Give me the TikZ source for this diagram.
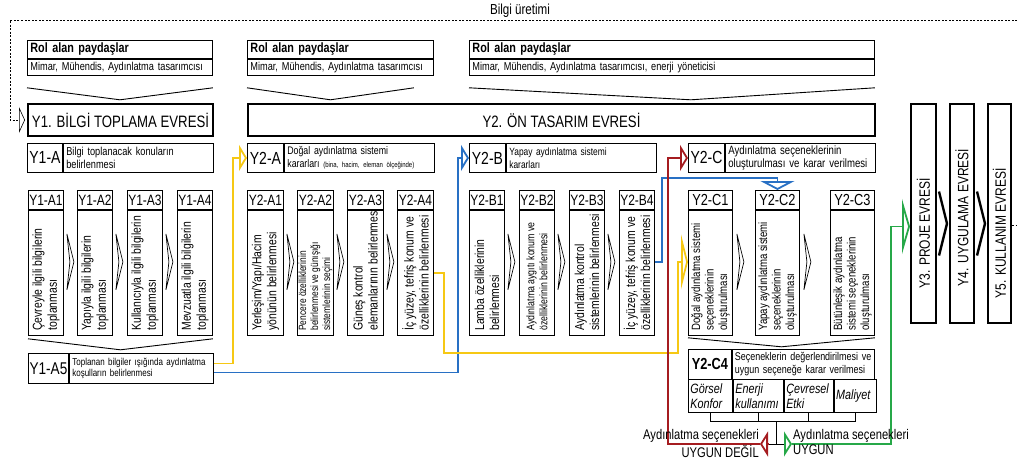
\documentclass[tikz,border=0pt]{standalone}
\usepackage{fontspec}
\setmainfont{Liberation Sans}[FakeStretch=0.8]
\usetikzlibrary{positioning,calc,arrows.meta}
\definecolor{flowyellow}{RGB}{246,200,20}
\definecolor{flowblue}{RGB}{40,112,196}
\definecolor{flowred}{RGB}{165,28,32}
\definecolor{flowgreen}{RGB}{38,168,72}
\newcommand{\fsz}[2]{\fontsize{#1}{#2}\selectfont}

\begin{document}
\begin{tikzpicture}
  [x=1pt, y=-1pt,
   boxN/.style={draw, line width=0.9pt, inner sep=0pt, anchor=north west},
   rolN/.style={boxN, align=left, inner xsep=3pt, text width=#1},
   evreN/.style={boxN, line width=2pt, font=\fsz{16.5}{18}},
   labN/.style={boxN, minimum height=29pt, font=\fsz{17.5}{19}},
   txtN/.style={boxN, minimum height=29pt, align=left, inner xsep=3pt, text width=144pt},
   headN/.style={boxN, minimum height=19pt, font=\fsz{15}{17}},
   bodyN/.style={boxN, minimum height=125pt},
   vtext/.style={rotate=90, anchor=west, align=left, inner sep=0pt, font=\fsz{13}{15}},
   cellN/.style={boxN, minimum height=33pt, align=left, inner xsep=2pt, font=\fsz{13.5}{15.5}\itshape},
   vee/.style={line width=0.9pt},
   nxt/.style={line width=0.7pt, line join=miter},
   bnxt/.style={line width=2.4pt, line join=miter},
   tree/.style={line width=0.9pt},
   dline/.style={line width=0.6pt, dash pattern=on 2pt off 1.5pt},
   flow/.style={line width=1.8pt, -{Triangle[open, length=8pt, width=26pt]}},
   lbl/.style={font=\fsz{14}{16}, inner sep=1pt}]

  \useasboundingbox (0,0) rectangle (1017,463);

  % bilgi üretimi loop
  \node[font=\fsz{14.5}{16}] (bilgi) at (520,11) {Bilgi üretimi};
  \coordinate (topL) at (10,20);
  \coordinate (topR) at (1017,20);
  \coordinate (outR) at (1017,225);

  % roles
  \node[rolN=179pt, minimum height=18pt, font=\fsz{13.5}{15}\bfseries] (rol1) at (27,40) {Rol alan paydaşlar};
  \node[rolN=179pt, minimum height=16pt, font=\fsz{11.5}{13}, below=0pt of rol1] (rol1m) {Mimar, Mühendis, Aydınlatma tasarımcısı};
  \node[rolN=180pt, minimum height=18pt, font=\fsz{13.5}{15}\bfseries] (rol2) at (247,40) {Rol alan paydaşlar};
  \node[rolN=180pt, minimum height=16pt, font=\fsz{11.5}{13}, below=0pt of rol2] (rol2m) {Mimar, Mühendis, Aydınlatma tasarımcısı};
  \node[rolN=399pt, minimum height=18pt, font=\fsz{13.5}{15}\bfseries] (rol3) at (469,40) {Rol alan paydaşlar};
  \node[rolN=399pt, minimum height=16pt, font=\fsz{11.5}{13}, below=0pt of rol3] (rol3m) {Mimar, Mühendis, Aydınlatma tasarımcısı, enerji yöneticisi};

  \draw[vee] ($(rol1m.south west)+(0,12)$) -- ($(rol1m.south)+(0,24)$) -- ($(rol1m.south east)+(0,12)$);
  \draw[vee] ($(rol2m.south west)+(0,12)$) -- ($(rol2m.south)+(-10,24)$) -- ($(rol2m.south east)+(-20,12)$);
  \draw[vee] ($(rol3m.south west)+(0,12)$) -- ($(rol3m.south)+(19,24)$) -- ($(rol3m.south east)+(0,12)$);

  % phases
  \node[evreN, minimum width=185pt, minimum height=32pt] (y1) at (27,103) {Y1. BİLGİ TOPLAMA EVRESİ};
  \node[evreN, minimum width=627pt, minimum height=32pt] (y2) at (247,103) {Y2. ÖN TASARIM EVRESİ};

  \node[boxN, line width=2pt, minimum width=25pt, minimum height=219pt] (y3) at (910,103) {};
  \node[boxN, line width=2pt, minimum width=24pt, minimum height=219pt, right=12pt of y3] (y4) {};
  \node[boxN, line width=2pt, minimum width=23pt, minimum height=219pt, right=12pt of y4] (y5) {};
  \node[rotate=90, font=\fsz{15}{17}] (y3x) at ($(y3)+(0,20)$) {Y3. PROJE EVRESİ};
  \node[rotate=90, font=\fsz{15}{17}] (y4x) at ($(y4)+(0,4)$) {Y4. UYGULAMA EVRESİ};
  \node[rotate=90, font=\fsz{15}{17}] (y5x) at ($(y5)+(0,20)$) {Y5. KULLANIM EVRESİ};
  \draw[bnxt] ($(y3.east)+(2,-22)$) -- ++(8,32) -- ++(-8,32);
  \draw[bnxt] ($(y4.east)+(2,-22)$) -- ++(8,32) -- ++(-8,32);

  % steps
  \node[labN, minimum width=35pt] (y1a) at (27,143) {Y1-A};
  \node[txtN, font=\fsz{11.5}{13}, right=0pt of y1a] (y1at) {Bilgi toplanacak konuların\\belirlenmesi};
  \node[labN, minimum width=36pt] (y2a) at (247,143) {Y2-A};
  \node[txtN, font=\fsz{11}{13}, right=0pt of y2a] (y2at) {Doğal aydınlatma sistemi\\kararları {\fsz{7.5}{9}(bina, hacim, eleman ölçeğinde)}};
  \node[labN, minimum width=36pt] (y2b) at (469,143) {Y2-B};
  \node[txtN, font=\fsz{10.5}{13}, right=0pt of y2b] (y2bt) {Yapay aydınlatma sistemi\\kararları};
  \node[labN, minimum width=36pt] (y2c) at (688,143) {Y2-C};
  \node[txtN, font=\fsz{12}{13.5}, right=0pt of y2c] (y2ct) {Aydınlatma seçeneklerinin\\oluşturulması ve karar verilmesi};

  % Y1 sub steps
  \node[headN, minimum width=35pt] (y1a1) at (28,190) {Y1-A1};
  \node[bodyN, minimum width=35pt, below=0pt of y1a1] (y1a1b) {};
  \node[vtext] (y1a1x) at ($(y1a1b.south)+(0,-5)$) {Çevreyle ilgili bilgilerin\\toplanması};
  \node[headN, minimum width=35pt] (y1a2) at (77,190) {Y1-A2};
  \node[bodyN, minimum width=35pt, below=0pt of y1a2] (y1a2b) {};
  \node[vtext] (y1a2x) at ($(y1a2b.south)+(0,-5)$) {Yapıyla ilgili bilgilerin\\toplanması};
  \node[headN, minimum width=35pt] (y1a3) at (127,190) {Y1-A3};
  \node[bodyN, minimum width=35pt, below=0pt of y1a3] (y1a3b) {};
  \node[vtext] (y1a3x) at ($(y1a3b.south)+(0,-5)$) {Kullanıcıyla ilgili bilgilerin\\toplanması};
  \node[headN, minimum width=35pt] (y1a4) at (177,190) {Y1-A4};
  \node[bodyN, minimum width=35pt, below=0pt of y1a4] (y1a4b) {};
  \node[vtext] (y1a4x) at ($(y1a4b.south)+(0,-5)$) {Mevzuatla ilgili bilgilerin\\toplanması};

  \draw[nxt] ($(y1a1b.north east)+(3,24)$) -- ++(7,28) -- ++(-7,28) -- ++(3,-28) -- cycle;
  \draw[nxt] ($(y1a2b.north east)+(3,24)$) -- ++(7,28) -- ++(-7,28) -- ++(3,-28) -- cycle;
  \draw[nxt] ($(y1a3b.north east)+(3,24)$) -- ++(7,28) -- ++(-7,28) -- ++(3,-28) -- cycle;
  \draw[vee] ($(y1a1b.south west)+(0,3)$) -- ($(y1a1b.south west)!0.5!(y1a4b.south east)+(0,14)$) -- ($(y1a4b.south east)+(0,3)$);

  \node[boxN, minimum width=40pt, minimum height=30pt, font=\fsz{17}{19}] (y1a5) at (28,353) {Y1-A5};
  \node[boxN, minimum height=30pt, align=left, inner xsep=3pt, text width=138pt, font=\fsz{10}{11.5}, right=0pt of y1a5] (y1a5t) {Toplanan bilgiler ışığında aydınlatma\\koşulların belirlenmesi};

  % Y2-A sub steps
  \node[headN, minimum width=36pt] (y2a1) at (247,190) {Y2-A1};
  \node[bodyN, minimum width=36pt, below=0pt of y2a1] (y2a1b) {};
  \node[vtext] (y2a1x) at ($(y2a1b.south)+(0,-5)$) {Yerleşim/Yapı/Hacim\\yönünün belirlenmesi};
  \node[headN, minimum width=36pt] (y2a2) at (297,190) {Y2-A2};
  \node[bodyN, minimum width=36pt, below=0pt of y2a2] (y2a2b) {};
  \node[vtext, font=\fsz{10.5}{12}] (y2a2x) at ($(y2a2b.south)+(0,-5)$) {Pencere özelliklerinin\\belirlenmesi ve günışığı\\sistemlerinin seçimi};
  \node[headN, minimum width=36pt] (y2a3) at (347,190) {Y2-A3};
  \node[bodyN, minimum width=36pt, below=0pt of y2a3] (y2a3b) {};
  \node[vtext] (y2a3x) at ($(y2a3b.south)+(0,-5)$) {Güneş kontrol\\elemanlarının belirlenmesi};
  \node[headN, minimum width=36pt] (y2a4) at (397,190) {Y2-A4};
  \node[bodyN, minimum width=36pt, below=0pt of y2a4] (y2a4b) {};
  \node[vtext] (y2a4x) at ($(y2a4b.south)+(0,-5)$) {İç yüzey, tefriş konum ve\\özelliklerinin belirlenmesi};

  \draw[nxt] ($(y2a1b.north east)+(3,24)$) -- ++(7,28) -- ++(-7,28) -- ++(3,-28) -- cycle;
  \draw[nxt] ($(y2a2b.north east)+(3,24)$) -- ++(7,28) -- ++(-7,28) -- ++(3,-28) -- cycle;
  \draw[nxt] ($(y2a3b.north east)+(3,24)$) -- ++(7,28) -- ++(-7,28) -- ++(3,-28) -- cycle;

  % Y2-B sub steps
  \node[headN, minimum width=35pt] (y2b1) at (469,190) {Y2-B1};
  \node[bodyN, minimum width=35pt, below=0pt of y2b1] (y2b1b) {};
  \node[vtext] (y2b1x) at ($(y2b1b.south)+(0,-5)$) {Lamba özelliklerinin\\belirlenmesi};
  \node[headN, minimum width=35pt] (y2b2) at (519,190) {Y2-B2};
  \node[bodyN, minimum width=35pt, below=0pt of y2b2] (y2b2b) {};
  \node[vtext, font=\fsz{11}{13}] (y2b2x) at ($(y2b2b.south)+(0,-5)$) {Aydınlatma aygıtı konum ve\\özelliklerinin belirlenmesi};
  \node[headN, minimum width=35pt] (y2b3) at (569,190) {Y2-B3};
  \node[bodyN, minimum width=35pt, below=0pt of y2b3] (y2b3b) {};
  \node[vtext] (y2b3x) at ($(y2b3b.south)+(0,-5)$) {Aydınlatma kontrol\\sistemlerinin belirlenmesi};
  \node[headN, minimum width=35pt] (y2b4) at (619,190) {Y2-B4};
  \node[bodyN, minimum width=35pt, below=0pt of y2b4] (y2b4b) {};
  \node[vtext] (y2b4x) at ($(y2b4b.south)+(0,-5)$) {İç yüzey, tefriş konum ve\\özelliklerinin belirlenmesi};

  \draw[nxt] ($(y2b1b.north east)+(3,24)$) -- ++(7,28) -- ++(-7,28) -- ++(3,-28) -- cycle;
  \draw[nxt] ($(y2b2b.north east)+(3,24)$) -- ++(7,28) -- ++(-7,28) -- ++(3,-28) -- cycle;
  \draw[nxt] ($(y2b3b.north east)+(3,24)$) -- ++(7,28) -- ++(-7,28) -- ++(3,-28) -- cycle;

  % Y2-C sub steps
  \node[headN, minimum width=44pt, font=\fsz{16}{18}] (y2c1) at (688,190) {Y2-C1};
  \node[bodyN, minimum width=44pt, below=0pt of y2c1] (y2c1b) {};
  \node[vtext, font=\fsz{12}{13.5}] (y2c1x) at ($(y2c1b.south)+(0,-5)$) {Doğal aydınlatma sistemi\\seçeneklerinin\\oluşturulması};
  \node[headN, minimum width=44pt, font=\fsz{16}{18}] (y2c2) at (755,190) {Y2-C2};
  \node[bodyN, minimum width=44pt, below=0pt of y2c2] (y2c2b) {};
  \node[vtext, font=\fsz{12}{13.5}] (y2c2x) at ($(y2c2b.south)+(0,-5)$) {Yapay aydınlatma sistemi\\seçeneklerinin\\oluşturulması};
  \node[headN, minimum width=44pt, font=\fsz{16}{18}] (y2c3) at (830,190) {Y2-C3};
  \node[bodyN, minimum width=44pt, below=0pt of y2c3] (y2c3b) {};
  \node[vtext, font=\fsz{12}{13.5}] (y2c3x) at ($(y2c3b.south)+(0,-5)$) {Bütünleşik aydınlatma\\sistemi seçeneklerinin\\oluşturulması};

  \draw[nxt] ($(y2c1b.north east)+(4,24)$) -- ++(7,28) -- ++(-7,28) -- ++(3,-28) -- cycle;
  \draw[nxt] ($(y2c2b.north east)+(4,24)$) -- ++(7,28) -- ++(-7,28) -- ++(3,-28) -- cycle;
  \draw[vee] ($(y2c1b.south west)+(0,2)$) -- ($(y2c1b.south west)!0.5!(y2c3b.south east)+(0,11)$) -- ($(y2c3b.south east)+(0,2)$);

  % evaluation
  \node[boxN, minimum width=43pt, minimum height=30pt, font=\fsz{16}{18}\bfseries] (y2c4) at (688,349) {Y2-C4};
  \node[boxN, minimum height=30pt, align=left, inner xsep=2.5pt, text width=137pt, font=\fsz{11.2}{13}, right=0pt of y2c4] (y2c4t) {Seçeneklerin değerlendirilmesi ve\\uygun seçeneğe karar verilmesi};
  \node[cellN, text width=40pt] (gorsel) at (688,379) {Görsel\\Konfor};
  \node[cellN, text width=46pt, right=0pt of gorsel] (enerji) {Enerji\\kullanımı};
  \node[cellN, text width=45pt, right=0pt of enerji] (cevre) {Çevresel\\Etki};
  \node[cellN, text width=38pt, right=0pt of cevre] (maliyet) {Maliyet};

  \draw[tree] (gorsel.south) -- ++(0,9) coordinate (t1) -- (t1 -| maliyet.south) -- (maliyet.south);
  \draw[tree] (enerji.south) -- (enerji.south |- t1);
  \draw[tree] (cevre.south) -- (cevre.south |- t1);
  \coordinate (jn) at (776,444);
  \draw[tree] (jn |- t1) -- (jn);
  \draw[tree] ($(jn)+(-8,0)$) coordinate (jl) -- ($(jn)+(8,0)$) coordinate (jr);

  % flows
  \draw[flow, flowyellow] ($(y1a5t.east)+(0,-5)$) -- ++(19,0) |- (y2a.west);
  \draw[flow, flowblue] ($(y1a5t.east)+(0,4)$) -- ++(244,0) |- (y2b.west);

  \coordinate (yb) at (678,353);
  \draw[flow, flowyellow, -{Triangle[open, length=7pt, width=55pt]}] (y2a4b.east) -- ++(10,0) |- (yb) |- ($(y2c1b.west)+(0,-11)$);

  \coordinate (bt) at (662,178);
  \draw[flow, flowblue, -{Triangle[open, length=9pt, width=34pt]}] ($(y2b4b.east)+(0,-11)$) -| (bt) -| (y2c2.north);

  \coordinate (rx) at (668,0);
  \draw[flow, flowred, -{Triangle[open, length=8pt, width=25pt]}] (jl) -- ++(-8,0) coordinate (rl);
  \draw[flow, flowred] (rl) -- (rl -| rx) |- (y2c.west);

  \coordinate (gx) at (891,0);
  \draw[flow, flowgreen, -{Triangle[open, length=8pt, width=25pt]}] (jr) -- ++(8,0) coordinate (gl);
  \draw[flow, flowgreen, -{Triangle[open, length=8pt, width=55pt]}] (gl) -- (gl -| gx) |- ($(y3.west)+(0,13)$);

  \node[lbl, anchor=south east] (redL) at (rl) {Aydınlatma seçenekleri};
  \node[lbl, anchor=north east] (redU) at (rl) {UYGUN DEĞİL};
  \node[lbl, anchor=south west] (grnL) at (gl) {Aydınlatma seçenekleri};
  \node[lbl, anchor=north west] (grnU) at (gl) {UYGUN};

  % knowledge loop
  \draw[dline, -{Triangle[open, length=6pt, width=26pt]}] (topR) -- (topL) |- ($(y1.west)+(-2,0)$);
  \draw[dline] (y5.east |- outR) -- (outR);
\end{tikzpicture}
\end{document}
